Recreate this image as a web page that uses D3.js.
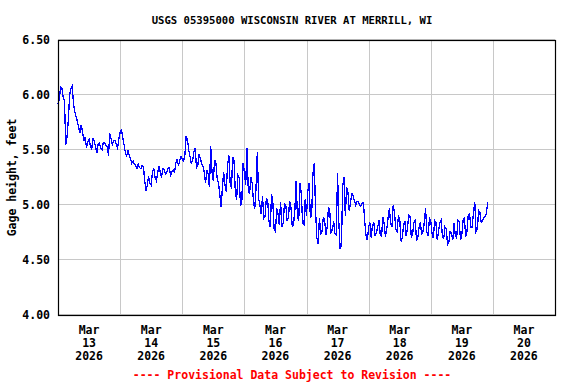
<!DOCTYPE html>
<html>
<head>
<meta charset="utf-8">
<script src="https://cdn.jsdelivr.net/npm/d3@7"></script>
<style>
  body { margin: 0; background: #fff; }
  text { font-family: "DejaVu Sans Mono", monospace; font-weight: bold; font-size: 11.5px; }
</style>
</head>
<body>
<svg id="chart" width="576" height="384"></svg>
<script>
// gage height readings, every 30 minutes from Mar 13 2026 00:00
var startTime = new Date(2026, 2, 13, 0, 0);
var stepMinutes = 30;
var gageHeight = [
  // Mar 13
  5.92, 5.96, 6.07, 6.06, 5.98, 5.95, 5.55, 5.62, 5.78, 6.00, 6.06, 6.08,
  5.92, 5.85, 5.80, 5.76, 5.70, 5.66, 5.73, 5.66, 5.58, 5.62, 5.52, 5.57,
  5.60, 5.54, 5.50, 5.61, 5.58, 5.53, 5.47, 5.55, 5.56, 5.52, 5.50, 5.57,
  5.57, 5.54, 5.53, 5.45, 5.65, 5.60, 5.55, 5.58, 5.59, 5.55, 5.52, 5.60,
  // Mar 14
  5.66, 5.68, 5.62, 5.55, 5.48, 5.44, 5.50, 5.45, 5.42, 5.38, 5.40, 5.37,
  5.36, 5.33, 5.37, 5.34, 5.33, 5.36, 5.35, 5.22, 5.13, 5.18, 5.26, 5.20,
  5.18, 5.30, 5.33, 5.25, 5.22, 5.29, 5.35, 5.30, 5.25, 5.33, 5.32, 5.28,
  5.30, 5.33, 5.34, 5.27, 5.30, 5.32, 5.29, 5.38, 5.42, 5.36, 5.40, 5.44,
  // Mar 15
  5.42, 5.40, 5.45, 5.62, 5.60, 5.50, 5.44, 5.38, 5.40, 5.48, 5.52, 5.34,
  5.36, 5.46, 5.42, 5.38, 5.35, 5.30, 5.20, 5.32, 5.28, 5.16, 5.54, 5.30,
  5.22, 5.41, 5.38, 5.24, 5.20, 5.10, 4.98, 5.15, 5.30, 5.18, 5.12, 5.36,
  5.45, 5.20, 5.15, 5.44, 5.40, 5.12, 5.05, 5.27, 5.25, 5.00, 5.02, 5.38,
  // Mar 16
  5.30, 5.18, 5.52, 5.14, 5.10, 5.25, 5.20, 5.04, 4.96, 5.15, 5.48, 5.06,
  5.00, 4.92, 5.08, 4.88, 4.90, 5.06, 5.05, 4.85, 4.80, 5.10, 5.02, 4.78,
  4.76, 4.97, 4.92, 4.82, 5.03, 4.80, 4.84, 5.01, 5.00, 4.86, 4.88, 5.04,
  4.98, 4.80, 4.83, 4.95, 5.22, 4.90, 4.86, 5.20, 5.10, 4.84, 4.82, 5.05,
  // Mar 17
  4.90, 5.12, 5.20, 4.88, 4.92, 5.29, 5.38, 4.95, 4.70, 4.65, 4.88, 4.74,
  4.76, 4.89, 4.86, 4.73, 4.80, 4.98, 4.94, 4.75, 4.77, 4.85, 4.74, 4.73,
  5.29, 4.84, 4.60, 4.64, 5.18, 5.25, 4.90, 5.16, 5.12, 4.95, 5.02, 5.11,
  5.08, 5.04, 5.00, 5.03, 5.03, 5.00, 4.99, 5.02, 5.02, 4.85, 4.72, 4.68,
  // Mar 18
  4.80, 4.84, 4.70, 4.82, 4.84, 4.72, 4.75, 4.80, 4.86, 4.73, 4.72, 4.89,
  4.83, 4.71, 4.78, 4.88, 4.97, 4.84, 4.80, 5.00, 4.93, 4.78, 4.76, 4.90,
  4.88, 4.67, 4.70, 4.82, 4.85, 4.72, 4.79, 4.91, 4.90, 4.70, 4.74, 4.84,
  4.86, 4.68, 4.70, 4.80, 4.84, 4.73, 4.76, 4.84, 4.97, 4.75, 4.72, 4.88,
  // Mar 19
  4.86, 4.74, 4.70, 4.86, 4.84, 4.68, 4.76, 4.84, 4.86, 4.72, 4.69, 4.80,
  4.78, 4.64, 4.66, 4.76, 4.75, 4.68, 4.84, 4.72, 4.70, 4.86, 4.85, 4.68,
  4.73, 4.86, 4.88, 4.71, 4.76, 4.91, 4.92, 4.80, 4.80, 4.93, 5.03, 4.76,
  4.78, 4.95, 4.93, 4.84, 4.86, 4.88, 4.90, 4.92, 5.03
];
var yTicks = [4.0, 4.5, 5.0, 5.5, 6.0, 6.5];
var dayLabels = ["13", "14", "15", "16", "17", "18", "19", "20"];

(function() {
    var svg = d3.select("#chart");
    var pLeft = 58, pRight = 555, pTop = 40, pBottom = 315;

    var x = d3.scaleTime()
        .domain([new Date(2026, 2, 13), new Date(2026, 2, 21)])
        .range([pLeft, pRight]);
    var y = d3.scaleLinear()
        .domain([4.0, 6.5])
        .range([pBottom, pTop]);

    var data = gageHeight.map(function(v, i) {
        return { t: new Date(startTime.getTime() + i * stepMinutes * 60000), v: v };
    });

    // grid
    var days = d3.timeDay.range(new Date(2026, 2, 14), new Date(2026, 2, 21));
    svg.append("g").selectAll("line").data(days).enter()
        .append("line")
        .attr("x1", function(d) { return Math.round(x(d)) + 0.5; })
        .attr("x2", function(d) { return Math.round(x(d)) + 0.5; })
        .attr("y1", pTop).attr("y2", pBottom)
        .attr("stroke", "#c8c8c8").attr("stroke-width", 1);
    svg.append("g").selectAll("line").data(yTicks).enter()
        .append("line")
        .attr("x1", pLeft).attr("x2", pRight)
        .attr("y1", function(d) { return Math.round(y(d)) - 0.5; })
        .attr("y2", function(d) { return Math.round(y(d)) - 0.5; })
        .attr("stroke", "#c8c8c8").attr("stroke-width", 1);

    // data line, aliased like the original gif
    svg.append("path")
        .datum(data)
        .attr("fill", "none")
        .attr("stroke", "#0000ff")
        .attr("stroke-width", 1.3)
        .attr("shape-rendering", "crispEdges")
        .attr("d", d3.line()
            .x(function(d) { return x(d.t); })
            .y(function(d) { return y(d.v); }));

    // frame
    svg.append("rect")
        .attr("x", pLeft + 0.5).attr("y", pTop + 0.5)
        .attr("width", pRight - pLeft).attr("height", pBottom - pTop)
        .attr("fill", "none").attr("stroke", "#000").attr("stroke-width", 1.2);

    // y labels
    svg.append("g").selectAll("text").data(yTicks).enter()
        .append("text")
        .attr("x", 50)
        .attr("y", function(d) { return y(d) + 4; })
        .attr("text-anchor", "end")
        .text(function(d) { return d3.format(".2f")(d); });

    svg.append("text")
        .attr("transform", "translate(16," + ((pTop + pBottom) / 2) + ") rotate(-90)")
        .attr("text-anchor", "middle")
        .text("Gage height, feet");

    // x labels, centred at noon of each day
    var noons = dayLabels.map(function(d) { return new Date(2026, 2, +d, 12); });
    var xl = svg.append("g").selectAll("text").data(noons).enter()
        .append("text")
        .attr("text-anchor", "middle")
        .attr("x", function(d) { return x(d); })
        .attr("y", 334);
    xl.append("tspan").attr("x", function(d) { return x(d); }).attr("dy", 0).text("Mar");
    xl.append("tspan").attr("x", function(d) { return x(d); }).attr("dy", 13)
        .text(function(d, i) { return dayLabels[i]; });
    xl.append("tspan").attr("x", function(d) { return x(d); }).attr("dy", 13).text("2026");

    // title and footer
    svg.append("text")
        .attr("x", 292).attr("y", 24)
        .attr("text-anchor", "middle")
        .style("font-size", "10.6px")
        .text("USGS 05395000 WISCONSIN RIVER AT MERRILL, WI");
    svg.append("text")
        .attr("x", 292).attr("y", 379)
        .attr("text-anchor", "middle")
        .attr("fill", "#ff0000")
        .text("---- Provisional Data Subject to Revision ----");
})();
</script>
</body>
</html>
